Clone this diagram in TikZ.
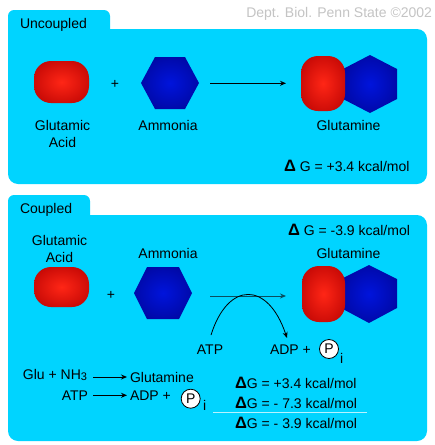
\documentclass[tikz,border=0pt]{standalone}
\usepackage{fontspec}
\setmainfont{Liberation Sans}
\usetikzlibrary{arrows.meta}
\definecolor{panel}{HTML}{00D4FF}
\definecolor{redin}{HTML}{FF2616}
\definecolor{redmid}{HTML}{C80A06}
\definecolor{redout}{HTML}{960000}
\definecolor{bluein}{HTML}{0014DC}
\definecolor{bluemid}{HTML}{0008A4}
\definecolor{blueout}{HTML}{000074}
\definecolor{credit}{HTML}{C4C4C4}
\definecolor{darrow}{HTML}{0A4E5E}
\definecolor{sepline}{HTML}{B8F2FF}
\pgfdeclareradialshading{redball}{\pgfpoint{0bp}{0bp}}{color(0bp)=(redin); color(28bp)=(redmid); color(50bp)=(redout)}
\pgfdeclareradialshading{blueball}{\pgfpoint{0bp}{0bp}}{color(0bp)=(bluein); color(28bp)=(bluemid); color(50bp)=(blueout)}
\newcommand\fsz{\fontsize{14}{17}\selectfont}
\newcommand\dG{{\fontsize{16.5}{17}\selectfont\bfseries Δ}}
\begin{document}
\begin{tikzpicture}[x=1pt,y=-1pt,
  lbl/.style={anchor=base, font=\fsz, inner sep=0pt, outer sep=0pt},
  lblw/.style={lbl, anchor=base west},
  panelbox/.style={fill=panel, rounded corners=10pt},
  tabbox/.style={fill=panel, rounded corners=6pt},
  redmol/.style={shading=redball, rounded corners=17pt},
  bluemol/.style={shading=blueball},
  rxn/.style={-{Stealth[length=6pt,width=5pt]}, line width=0.9pt},
  pcirc/.style={circle, draw=black, fill=white, line width=0.8pt, minimum size=19pt, inner sep=0pt, font=\fsz},
]
\useasboundingbox[fill=white] (0,0) rectangle (435,445);

% ---------- Uncoupled panel ----------
\fill[tabbox] (8,10) rectangle (110,50);
\fill[panelbox] (8,29) rectangle (427,184);
\node[lblw] (uncoupled) at (20,28.5) {Uncoupled};
\node[lbl, anchor=base east, text=credit] (credit) at (432,17) {Dept. Biol. Penn State ©2002};

\shade[redmol] (34,61) rectangle (89,103);
\node[lbl] (plusA) at (115,88.5) {+};
\shade[bluemol] (141,83) -- (155,57) -- (185,57) -- (199,83) -- (185,109) -- (155,109) -- cycle;
\coordinate (arrAs) at (210,83.3);
\coordinate (arrAe) at (286,83.3);
\draw[rxn] (arrAs) -- (arrAe);
\shade[bluemol] (370,55) -- (397,69) -- (397,99) -- (370,113) -- (343,99) -- (343,69) -- cycle;
\shade[redmol] (301,56) rectangle (345,111);

\node[lbl] (gluA1) at (62.5,130) {Glutamic};
\node[lbl] (gluA2) at (62.5,147) {Acid};
\node[lbl] (ammA) at (168,130) {Ammonia};
\node[lbl] (glnA) at (348.5,130) {Glutamine};
\node[lblw] (dgA) at (284,171) {\dG\ G = +3.4 kcal/mol};

% ---------- Coupled panel ----------
\fill[tabbox] (8,195) rectangle (90,235);
\fill[panelbox] (8,215) rectangle (427,441);
\node[lblw] (coupled) at (20,213) {Coupled};
\node[lblw] (dgB) at (288,235) {\dG\ G = -3.9 kcal/mol};

\node[lbl] (gluB1) at (59.5,245) {Glutamic};
\node[lbl] (gluB2) at (59.5,262) {Acid};
\node[lbl] (ammB) at (168,258) {Ammonia};
\node[lbl] (glnB) at (348.5,258) {Glutamine};

\shade[redmol] (34,267) rectangle (89,307);
\node[lbl] (plusB) at (111,299) {+};
\shade[bluemol] (134,293) -- (147,267) -- (179,267) -- (192,293) -- (179,319) -- (147,319) -- cycle;
\shade[bluemol] (369,265) -- (397,279) -- (397,308) -- (369,323) -- (341,308) -- (341,279) -- cycle;
\shade[redmol] (302,266) rectangle (345,322);

\coordinate (arrBs) at (210,296);
\coordinate (arrBe) at (286,296);
\draw[rxn, draw=darrow] (arrBs) -- (arrBe);

\node[lbl] (atp) at (210,354) {ATP};
\node[lblw] (adp) at (270,354) {ADP +};
\node[pcirc] (pA) at (329,349) {P};
\node[lblw] (iA) at (340,363) {i};
\coordinate (atpTop) at (211,335);
\coordinate (adpTop) at (287,338);
\draw[-{Stealth[length=6pt,width=5pt]}, line width=0.8pt] (atpTop) .. controls (228,281) and (268,281) .. (adpTop);

% ---------- equations ----------
\node[lblw] (eq1l) at (23,379.5) {Glu + NH\raisebox{-1pt}{\fontsize{11}{11}\selectfont 3}};
\node[lblw] (eq1r) at (130,382) {Glutamine};
\coordinate (e1s) at (93,377);
\coordinate (e1e) at (127,377);
\draw[rxn] (e1s) -- (e1e);

\node[lbl, anchor=base east] (eq2l) at (88,400.5) {ATP};
\node[lblw] (eq2r) at (130,400.5) {ADP +};
\node[pcirc] (pB) at (190.7,398.7) {P};
\node[lblw] (iB) at (203,410) {i};
\coordinate (e2s) at (93,395.3);
\coordinate (e2e) at (127,395.3);
\draw[rxn] (e2s) -- (e2e);

\node[lblw] (dg1) at (235,388) {\dG G = +3.4 kcal/mol};
\node[lblw] (dg2) at (235,408) {\dG G = - 7.3 kcal/mol};
\coordinate (sepL) at (213,412.3);
\coordinate (sepR) at (367,412.3);
\draw[sepline, line width=1.3pt] (sepL) -- (sepR);
\node[lblw] (dg3) at (235,428) {\dG G = - 3.9 kcal/mol};
\end{tikzpicture}
\end{document}
